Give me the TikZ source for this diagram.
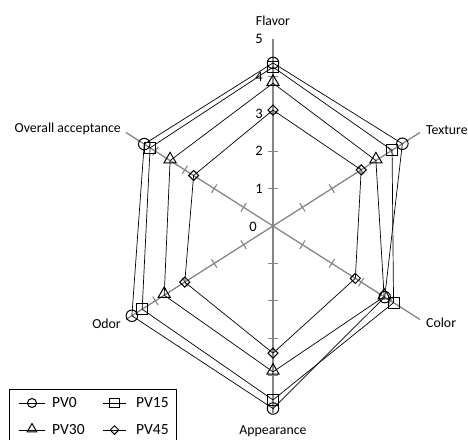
\documentclass[tikz,border=0pt]{standalone}
\usepackage{fontspec}
\setmainfont{Carlito}
\usetikzlibrary{calc,shapes.geometric}
\definecolor{axisgray}{RGB}{134,134,134}
\begin{document}
\begin{tikzpicture}[x=1pt,y=1pt,
  axisline/.style={draw=axisgray,line width=1.3pt},
  tickmark/.style={draw=axisgray,line width=1.1pt},
  series/.style={draw=black,line width=0.7pt},
  mk/.style={draw=black,line width=1pt,inner sep=0pt,fill=none},
  mcirc/.style={mk,circle,minimum size=11.5pt},
  msq/.style={mk,rectangle,minimum size=11pt},
  mtri/.style={mk,regular polygon,regular polygon sides=3,minimum size=14pt},
  mdia/.style={mk,diamond,minimum size=10.5pt},
  lcirc/.style={mk,circle,minimum size=9pt},
  lsq/.style={mk,rectangle,minimum size=9.5pt},
  ltri/.style={mk,regular polygon,regular polygon sides=3,minimum size=11pt},
  ldia/.style={mk,diamond,minimum size=9pt},
  lbl/.style={font=\fontsize{13.8}{16}\selectfont,inner sep=0pt},
  num/.style={font=\fontsize{14.5}{16}\selectfont,inner sep=0pt,anchor=east},
  leg/.style={font=\fontsize{15.5}{17}\selectfont,inner sep=0pt,anchor=west},
  legline/.style={draw=black,line width=0.8pt}]
\useasboundingbox (-273,-213) rectangle (195,226);
\clip (-273,-213) rectangle (195,226);
\coordinate (ctr) at (0,0);
\begin{scope}[x=33.95pt,y=37.4pt]
  % axis ends
  \foreach \n/\a in {fl/90,tx/30,co/-30,ap/-90,od/210,ov/150}{
    \coordinate (\n5) at (\a:5);
    \draw[axisline] (ctr) -- (\n5);
    \foreach \k in {1,...,5}{
      \coordinate (\n t\k) at (\a:\k);
      \draw[tickmark] ($(\n t\k)!5pt!90:(\n5)$) -- ($(\n t\k)!5pt!-90:(\n5)$);
    }
  }
  % data
  \foreach \s/\vf/\vt/\vc/\va/\vo/\vv in {
     0/4.36/4.4/3.8/4.88/4.8/4.38,
     15/4.25/4.05/4.1/4.65/4.45/4.18,
     30/3.82/3.5/3.78/3.9/3.7/3.5,
     45/3.1/3.0/2.8/3.4/3.0/2.7}{
    \coordinate (f\s) at (90:\vf);
    \coordinate (t\s) at (30:\vt);
    \coordinate (c\s) at (-30:\vc);
    \coordinate (a\s) at (-90:\va);
    \coordinate (o\s) at (210:\vo);
    \coordinate (v\s) at (150:\vv);
    \draw[series] (f\s) -- (t\s) -- (c\s) -- (a\s) -- (o\s) -- (v\s) -- cycle;
  }
\end{scope}
% markers
\foreach \p in {f,t,c,a,o,v}{
  \node[mcirc] (m0\p) at (\p0) {};
  \node[msq] (m15\p) at (\p15) {};
  \node[mtri] (m30\p) at ($(\p30)+(0,1.2)$) {};
  \node[mdia] (m45\p) at (\p45) {};
}
% scale numbers
\foreach \k in {1,...,5}{
  \node[num] (n\k) at (-10,{\k*37.4}) {\k};
}
\node[num] (n0) at (-16,-1) {0};
% axis labels
\node[lbl] (lflavor) at (0,205) {Flavor};
\node[lbl,anchor=west] (ltexture) at (153,96) {Texture};
\node[lbl,anchor=west] (lcolor) at (153,-97) {Color};
\node[lbl] (lappear) at (0,-205) {Appearance};
\node[lbl,anchor=east] (lodor) at (-152,-98) {Odor};
\node[lbl,anchor=east] (loverall) at (-152,97) {Overall acceptance};
% legend
\draw[black,line width=0.9pt] (-264,-163) rectangle (-97,-216);
\coordinate (la1) at (-254,-177); \coordinate (lb1) at (-228,-177);
\coordinate (la2) at (-254,-204); \coordinate (lb2) at (-228,-204);
\coordinate (lc1) at (-170,-177); \coordinate (ld1) at (-147,-177);
\coordinate (lc2) at (-170,-204); \coordinate (ld2) at (-147,-204);
\draw[legline] (la1) -- (lb1);
\draw[legline] (la2) -- (lb2);
\draw[legline] (lc1) -- (ld1);
\draw[legline] (lc2) -- (ld2);
\node[lcirc] (lm0) at ($(la1)!0.5!(lb1)$) {};
\node[ltri] (lm30) at ($(la2)!0.5!(lb2)+(0,1)$) {};
\node[lsq] (lm15) at ($(lc1)!0.5!(ld1)$) {};
\node[ldia] (lm45) at ($(lc2)!0.5!(ld2)$) {};
\node[leg] (lt0) at (-221,-177) {PV0};
\node[leg] (lt30) at (-221,-204) {PV30};
\node[leg] (lt15) at (-137,-177) {PV15};
\node[leg] (lt45) at (-137,-204) {PV45};
\end{tikzpicture}
\end{document}
